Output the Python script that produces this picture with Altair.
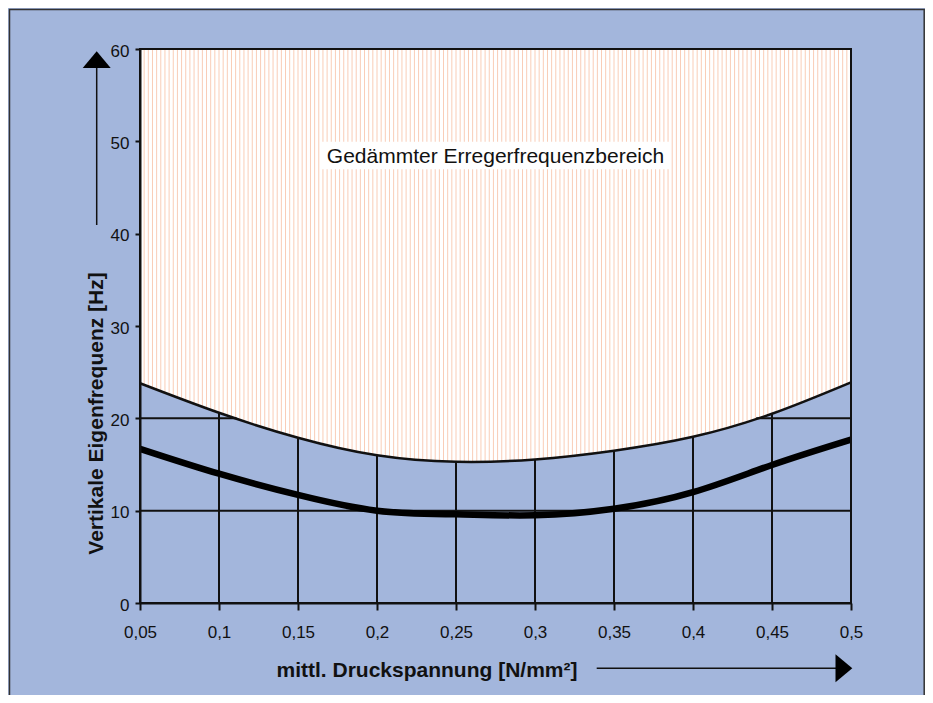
import altair as alt
import pandas as pd
import numpy as np

# ---- data ----
druck = [0.05, 0.1, 0.15, 0.2, 0.25, 0.3, 0.35, 0.4, 0.45, 0.5]
obere_grenze = [23.8, 20.6, 17.9, 16.0, 15.3, 15.55, 16.5, 18.0, 20.5, 23.9]
eigenfrequenz = [16.7, 14.0, 11.7, 10.0, 9.6, 9.5, 10.2, 12.0, 14.95, 17.7]
y_ticks = [0, 10, 20, 30, 40, 50, 60]
label_text = "Gedämmter Erregerfrequenzbereich"
label_pos = {"x": 0.275, "y": 47.6}
label_box = {"x": 0.164, "x2": 0.386, "y": 46.97, "y2": 49.96}
x_title = "mittl. Druckspannung [N/mm²]"
y_title = "Vertikale Eigenfrequenz [Hz]"

W, H = 711, 554
BLUE = "#A3B6DC"
PEACH = "#F9CDB7"
INK = "#111111"
FONT = "Liberation Sans"

df = pd.DataFrame({"x": druck, "upper": obere_grenze, "lower": eigenfrequenz})

# horizontal grid segments: only where the band lies below the boundary curve
xs_arr = np.array(druck)
up_arr = np.array(obere_grenze)
segs = []
for lvl in y_ticks[1:-1]:
    above = up_arr > lvl
    start = None
    for i in range(len(xs_arr)):
        if above[i] and start is None:
            if i == 0:
                start = xs_arr[0]
            else:
                f = (lvl - up_arr[i - 1]) / (up_arr[i] - up_arr[i - 1])
                start = xs_arr[i - 1] + f * (xs_arr[i] - xs_arr[i - 1])
        if (not above[i]) and start is not None:
            f = (lvl - up_arr[i - 1]) / (up_arr[i] - up_arr[i - 1])
            end = xs_arr[i - 1] + f * (xs_arr[i] - xs_arr[i - 1])
            segs.append({"x": start, "x2": end, "y": lvl})
            start = None
    if start is not None:
        segs.append({"x": start, "x2": xs_arr[-1], "y": lvl})
hgrid_df = pd.DataFrame(segs)

xs = alt.Scale(domain=[0.05, 0.5], nice=False, zero=False)
ys = alt.Scale(domain=[0, 60], nice=False)

x_axis = alt.Axis(values=druck, format=".2~f", labelExpr="replace(datum.label, '.', ',')",
                  title=None, grid=False, domainColor=INK, domainWidth=2,
                  tickColor=INK, tickWidth=2, tickSize=7, labelFontSize=17,
                  labelFont=FONT, labelColor=INK, labelPadding=14, zindex=1,
                  labelFlush=False, labelOverlap=False)
y_axis = alt.Axis(values=y_ticks, title=None, grid=False, domainColor=INK, domainWidth=2,
                  tickColor=INK, tickWidth=2, tickSize=5, labelFontSize=17,
                  labelFont=FONT, labelColor=INK, labelPadding=6, labelOffset=2, zindex=1,
                  labelFlush=False, labelOverlap=False)


def X(field):
    return alt.X(field, scale=xs, axis=x_axis)


def Y(field):
    return alt.Y(field, scale=ys, axis=y_axis)


one = pd.DataFrame({"a": [0]})

hatch = alt.Chart(alt.sequence(0, 172, as_="i")).transform_calculate(
    hx="0.05 + datum.i * 0.45 / 171"
).mark_rule(color=PEACH, strokeWidth=1).encode(
    x=X("hx:Q"), y=alt.value(0), y2=alt.value(H)
)

band = alt.Chart(df).mark_area(color=BLUE, opacity=1, interpolate="natural").encode(
    x=X("x:Q"), y=Y("upper:Q")
)

vgrid = alt.Chart(df).mark_rule(color=INK, strokeWidth=2).encode(
    x=X("x:Q"), y=Y("upper:Q"), y2=alt.datum(0)
)

hgrid = alt.Chart(hgrid_df).mark_rule(color=INK, strokeWidth=2).encode(
    x=X("x:Q"), x2="x2:Q", y=Y("y:Q")
)

box = alt.Chart(pd.DataFrame([label_box])).mark_rect(color="white").encode(
    x=X("x:Q"), x2="x2:Q", y=Y("y:Q"), y2="y2:Q"
)

label = alt.Chart(pd.DataFrame([dict(label_pos, t=label_text)])).mark_text(
    font=FONT, fontSize=21, color=INK, align="center", baseline="alphabetic"
).encode(x=X("x:Q"), y=Y("y:Q"), text="t:N")

upper_line = alt.Chart(df).mark_line(color=INK, strokeWidth=2.5, interpolate="natural").encode(
    x=X("x:Q"), y=Y("upper:Q")
)

lower_line = alt.Chart(df).mark_line(color="black", strokeWidth=6.5, interpolate="natural").encode(
    x=X("x:Q"), y=Y("lower:Q")
)

plot_frame = alt.Chart(one).mark_rect(fillOpacity=0, stroke=INK, strokeWidth=2).encode(
    x=alt.value(0), x2=alt.value(W), y=alt.value(0), y2=alt.value(H)
)

outer_frame = alt.Chart(one).mark_rect(fillOpacity=0, stroke="#333333", strokeWidth=1.5).encode(
    x=alt.value(-130.5), x2=alt.value(784.2), y=alt.value(-39.5), y2=alt.value(800)
)

y_arrow_line = alt.Chart(one).mark_rule(color=INK, strokeWidth=1.5).encode(
    x=alt.value(-43.3), y=alt.value(18), y2=alt.value(176)
)
y_arrow_head = alt.Chart(one).mark_point(
    shape="M-1,0.6L0,-0.6L1,0.6Z", size=784, filled=True, color="black", opacity=1
).encode(x=alt.value(-43.3), y=alt.value(10.7))

x_arrow_line = alt.Chart(one).mark_rule(color=INK, strokeWidth=1.5).encode(
    x=alt.value(456.7), x2=alt.value(697), y=alt.value(619.3)
)
x_arrow_head = alt.Chart(one).mark_point(
    shape="M-0.6,-1L0.6,0L-0.6,1Z", size=784, filled=True, color="black", opacity=1
).encode(x=alt.value(703.9), y=alt.value(619.3))

x_title_mark = alt.Chart(pd.DataFrame({"t": [x_title]})).mark_text(
    font=FONT, fontSize=21, fontWeight="bold", color=INK, align="center", baseline="alphabetic"
).encode(x=alt.value(287), y=alt.value(627.7), text="t:N")

y_title_mark = alt.Chart(pd.DataFrame({"t": [y_title]})).mark_text(
    font=FONT, fontSize=21, fontWeight="bold", color=INK, align="center", baseline="alphabetic",
    angle=270
).encode(x=alt.value(-37.3), y=alt.value(364.5), text="t:N")

chart = alt.layer(
    hatch, band, vgrid, hgrid, box, label, upper_line, lower_line, plot_frame,
    y_arrow_line, y_arrow_head, x_arrow_line, x_arrow_head, x_title_mark, y_title_mark,
    outer_frame
).properties(
    width=W, height=H,
    padding={"left": 132, "top": 41, "right": 74, "bottom": 92},
    autosize=alt.AutoSizeParams(type="none"),
    background=BLUE
).configure_view(stroke=None, fill="white")

chart.save("out.html", embed_options={"renderer": "svg", "actions": False})
